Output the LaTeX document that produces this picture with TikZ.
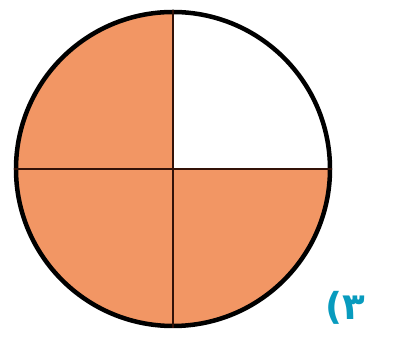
\documentclass[tikz,border=0pt]{standalone}
\usepackage{fontspec}
\newfontfamily\digitfont{DejaVu Sans}
\usepackage{tikz}
\usetikzlibrary{positioning}
\definecolor{quarterfill}{RGB}{242,150,100}
\definecolor{divline}{RGB}{50,18,8}
\definecolor{labelblue}{RGB}{8,155,190}

\begin{document}
\begin{tikzpicture}[
  x=0.0265cm, y=0.0265cm,
  rim/.style={draw=black, line width=3.4pt, circle, minimum size=314*0.0265cm,
    inner sep=0pt},
  divider/.style={draw=divline, line width=1.3pt},
  tag/.style={text=labelblue, font=\digitfont\bfseries\fontsize{28}{30}\selectfont,
    inner sep=0pt},
]
  \useasboundingbox (0,0) rectangle (396,339);

  % Shaded quarters
  \fill[quarterfill] (173,170) -- (173,327)
    arc[start angle=90, end angle=360, radius=157] -- cycle;

  % Outline of the whole
  \node[rim] (disc) at (173,170) {};

  % Dividing lines
  \draw[divider] (disc.north) -- (disc.south);
  \draw[divider] (disc.west) -- (disc.east);

  % Item number
  \node[tag] (num) at (345,31) {(۳};
\end{tikzpicture}
\end{document}
